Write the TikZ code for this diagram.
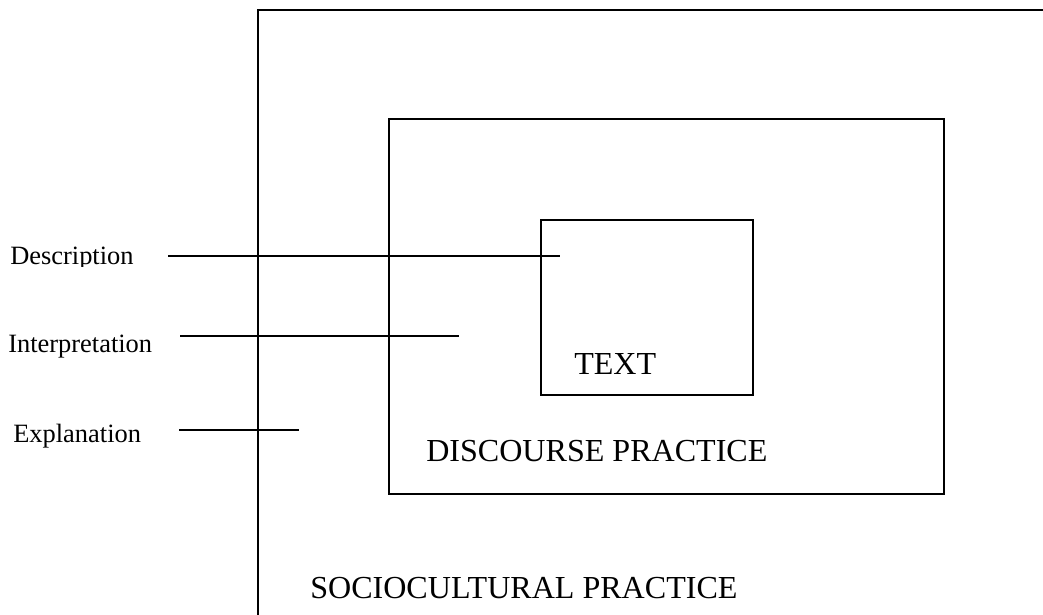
\documentclass[tikz,border=0pt]{standalone}
\usepackage{fontspec}
\setmainfont{Liberation Serif}
\usetikzlibrary{positioning,fit}
\tikzset{
	box/.style={draw, line width=1.3pt, inner sep=0pt},
	bigtext/.style={font=\fontsize{22.8}{27}\selectfont, inner sep=0pt, anchor=base west},
	lbl/.style={font=\fontsize{18.8}{22}\selectfont, inner sep=0pt, anchor=base west},
	levelline/.style={line width=1.3pt}
}
\begin{document}
\begin{tikzpicture}[x=0.025cm, y=-0.025cm]
	\useasboundingbox (0,0) rectangle (1043,614);
	\clip (0,0) rectangle (1043,614);
	% draw the three boxes
	\node[box,
	fit={(258,10) (1100,680)}] (social) {};
	\node[box,
	fit={(389,119) (944,494)}] (discourse) {};
	\node[box,
	fit={(541,220) (753,395)}] (textbox) {};
	
	% box labels
	\node[bigtext] (textlbl) at (574,374) {TEXT};
	\node[bigtext] (disclbl) at (426,461) {DISCOURSE PRACTICE};
	\node[bigtext] (sociolbl) at (310,598) {SOCIOCULTURAL PRACTICE};
	
	% level labels
	\begin{scope}
	\clip (0,200) rectangle (160,266);
	\node[lbl] (descr) at (10,264) {Description};
	\end{scope}
	\node[lbl] (interp) at (8,352) {Interpretation};
	\node[lbl] (explan) at (13,442) {Explanation};
	
	% line ends
	\coordinate (descA) at (168,256);
	\coordinate (descB) at (560,256);
	\coordinate (interpA) at (180,336);
	\coordinate (interpB) at (459,336);
	\coordinate (explanA) at (179,430);
	\coordinate (explanB) at (299,430);
	
	% Lines
	\draw[levelline] (descA) -- (descB);
	\draw[levelline] (interpA) -- (interpB);
	\draw[levelline] (explanA) -- (explanB);
\end{tikzpicture}
\end{document}
